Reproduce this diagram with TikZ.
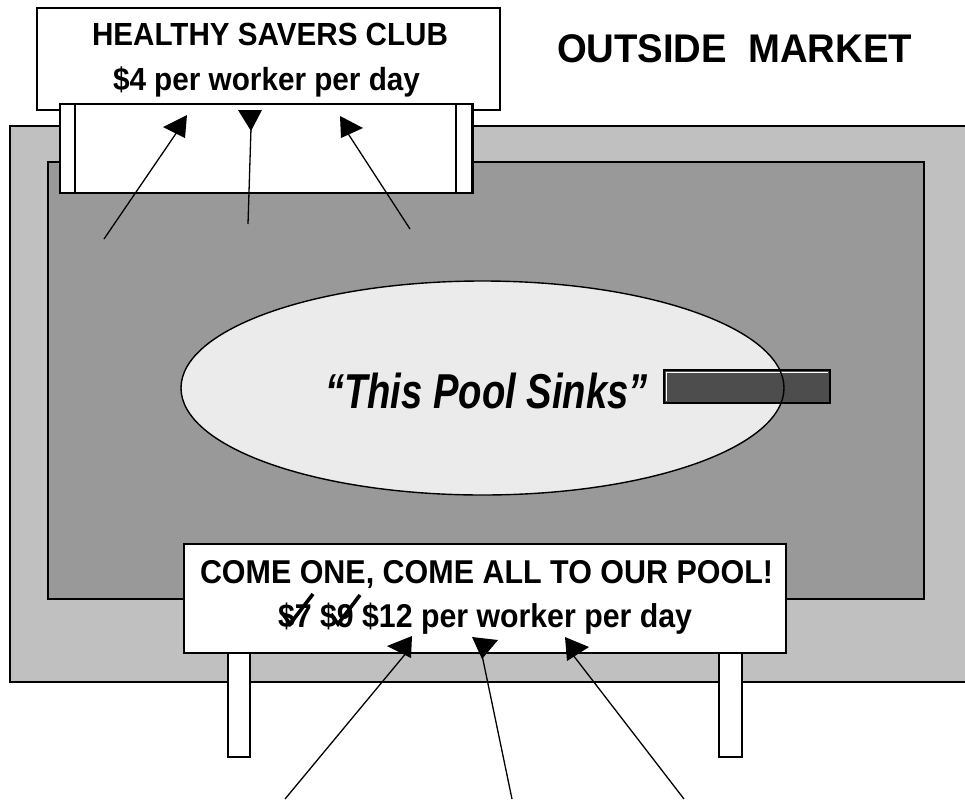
\documentclass[tikz,border=0pt]{standalone}
\usepackage{fontspec}
\setmainfont{Liberation Sans}
\usepackage{graphicx}
\definecolor{lgray}{HTML}{C0C0C0}
\definecolor{dgray}{HTML}{999999}
\definecolor{ellfill}{HTML}{EBEBEB}
\definecolor{barfill}{HTML}{4D4D4D}
\newsavebox\fitbox
\newcommand\fitw[2]{\sbox\fitbox{#2}\pgfmathsetmacro\fitf{#1/\the\wd\fitbox}\scalebox{\fitf}[1]{\usebox\fitbox}}
\tikzset{
  border/.style={line width=1.6pt, draw=black},
  pointer/.style={line width=1.3pt, draw=black},
  head/.style={fill=black},
  tick/.style={line width=3.6pt, draw=black},
  txt/.style={anchor=base west, inner sep=0pt, outer sep=0pt},
}
\begin{document}
\begin{tikzpicture}[x=1pt,y=-1pt]
\useasboundingbox (0,0) rectangle (965,806);
\fill[white] (0,0) rectangle (965,806);
% outer market area
\fill[lgray] (10,126) rectangle (965,682);
\draw[line width=2pt] (966,126) -- (10,126) -- (10,682) -- (966,682);
% inner pool
\draw[border, fill=dgray] (48,162) rectangle (924,599);
% ellipse
\fill[ellfill] (482.5,388) ellipse [x radius=301.5, y radius=107];
% bar
\draw[border, fill=barfill] (664,370) rectangle (830,403);
\draw[white, line width=0.8pt] (666.8,401) -- (666.8,372.8) -- (828,372.8);
\draw[line width=1.4pt] (482.5,388) ellipse [x radius=301.5, y radius=107];
\node[txt, font=\fontsize{49}{56}\selectfont\bfseries\itshape] (pooltext) at (325,408) {\fitw{323}{“This Pool Sinks”}};

% top sign
\draw[border, fill=white] (37,8) rectangle (500,110);
\node[txt, font=\fontsize{32}{38}\selectfont\bfseries] (hs1) at (92,45) {\fitw{356}{HEALTHY SAVERS CLUB}};
\node[txt, font=\fontsize{32}{38}\selectfont\bfseries] (hs2) at (113,90) {\fitw{307}{\$4 per worker per day}};
\draw[border, fill=white] (60,104) rectangle (472,193);
\draw[border] (75,104) -- (75,193);
\draw[border] (456,104) -- (456,193);
\draw[line width=3pt] (472,103) -- (472,194);

% top pointers
\coordinate (a1s) at (104,239); \coordinate (a1e) at (177,132);
\coordinate (a2s) at (248,224); \coordinate (a2e) at (251,128);
\coordinate (a3s) at (410,229); \coordinate (a3e) at (347,132);
\draw[pointer] (a1s) -- (a1e);
\draw[pointer] (a2s) -- (a2e);
\draw[pointer] (a3s) -- (a3e);
\fill[head] (163,127) -- (187,115) -- (185,138) -- cycle;
\fill[head] (238,110) -- (262,110) -- (251,131) -- cycle;
\fill[head] (340,116) -- (341,138) -- (363,128) -- cycle;

% outside market
\node[txt, font=\fontsize{40}{48}\selectfont\bfseries] (om) at (557,62) {\fitw{355}{OUTSIDE~~MARKET}};

% bottom sign posts
\draw[line width=1.4pt, fill=white] (228,640) rectangle (250,757);
\draw[line width=1.4pt, fill=white] (719,640) rectangle (742,757);
\draw[border, fill=white] (184,544) rectangle (786,653);
\node[txt, font=\fontsize{33}{40}\selectfont\bfseries] (c1) at (200,583) {\fitw{573}{COME ONE, COME ALL TO OUR POOL!}};
\node[txt, font=\fontsize{33}{40}\selectfont\bfseries] (c2) at (278,627) {\fitw{414}{\$7 \$9 \$12 per worker per day}};
% check marks over old prices
\draw[tick] (283,614) -- (290,624) -- (313,594);
\draw[tick] (331,614) -- (338,624) -- (360,595);

% bottom pointers
\coordinate (b1s) at (285,799); \coordinate (b1e) at (407,652);
\coordinate (b2s) at (512,799); \coordinate (b2e) at (482,655);
\coordinate (b3s) at (684,799); \coordinate (b3e) at (573,655);
\draw[pointer] (b1s) -- (b1e);
\draw[pointer] (b2s) -- (b2e);
\draw[pointer] (b3s) -- (b3e);
\fill[head] (387,646) -- (412,636) -- (411,658) -- cycle;
\fill[head] (472,637) -- (498,640) -- (482,659) -- cycle;
\fill[head] (565,637) -- (589,647) -- (567,661) -- cycle;
\end{tikzpicture}
\end{document}
